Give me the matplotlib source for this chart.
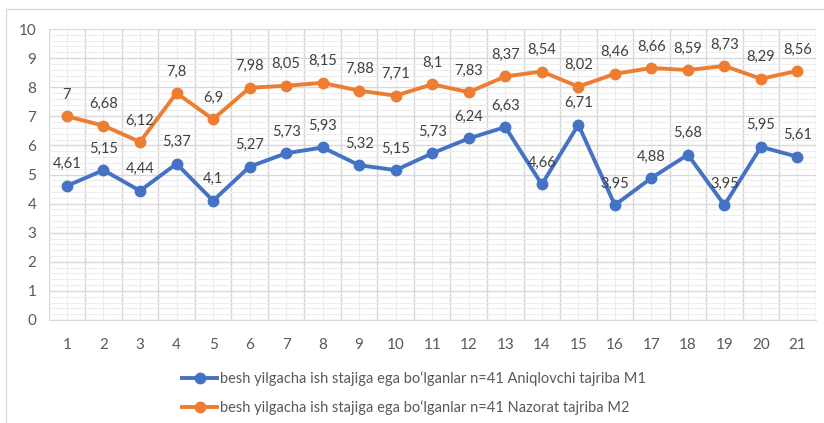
import numpy as np
import matplotlib.pyplot as plt
from matplotlib.patches import Rectangle
from matplotlib.ticker import MultipleLocator

plt.rcParams['font.family'] = ['Lato', 'DejaVu Sans']

days = list(range(1, 22))
m1 = [4.61, 5.15, 4.44, 5.37, 4.1, 5.27, 5.73, 5.93, 5.32, 5.15, 5.73,
      6.24, 6.63, 4.66, 6.71, 3.95, 4.88, 5.68, 3.95, 5.95, 5.61]
m2 = [7, 6.68, 6.12, 7.8, 6.9, 7.98, 8.05, 8.15, 7.88, 7.71, 8.1,
      7.83, 8.37, 8.54, 8.02, 8.46, 8.66, 8.59, 8.73, 8.29, 8.56]
name1 = "besh yilgacha ish stajiga ega bo\u2018lganlar n=41 Aniqlovchi tajriba M1"
name2 = "besh yilgacha ish stajiga ega bo\u2018lganlar n=41 Nazorat tajriba M2"

blue = '#4472C4'
orange = '#ED7D31'

fig = plt.figure(figsize=(8.24, 4.23), dpi=100)
ax = fig.add_axes([0.0591, 0.2435, 0.9309, 0.6879])

# chart border like excel
fig.patches.append(Rectangle((6/824, -0.1), 2, 1.1 - 9/423,
                             transform=fig.transFigure, fill=False,
                             edgecolor='#D9D9D9', lw=1))

ax.plot(days, m1, color=blue, lw=2.8, marker='o', ms=7.5, label=name1, zorder=3)
ax.plot(days, m2, color=orange, lw=2.8, marker='o', ms=7.5, label=name2, zorder=3)

def fmt(v):
    return ('%g' % v).replace('.', ',')

for x, y in zip(days, m1):
    ax.annotate(fmt(y), (x, y), xytext=(0, 15.5), textcoords='offset points',
                ha='center', va='center', fontsize=10.5, color='#404040')
for x, y in zip(days, m2):
    ax.annotate(fmt(y), (x, y), xytext=(0, 15.5), textcoords='offset points',
                ha='center', va='center', fontsize=10.5, color='#404040')

ax.set_xlim(0.5, 21.5)
ax.set_ylim(0, 10)
ax.set_xticks(days)
ax.set_yticks(range(0, 11))
ax.xaxis.set_minor_locator(MultipleLocator(1, offset=0.5))
ax.yaxis.set_minor_locator(MultipleLocator(0.2))
ax.grid(which='minor', color='#EDEDED', lw=0.8)
ax.grid(which='major', axis='y', color='#D9D9D9', lw=1)
# vertical major lines sit on category boundaries
ax.grid(which='minor', axis='x', color='#D6D6D6', lw=1)
for x in days:
    ax.axvline(x, color='#EDEDED', lw=0.8, zorder=0)
ax.set_axisbelow(True)
ax.tick_params(which='both', length=0, labelsize=11, colors='#595959')
ax.tick_params(axis='x', pad=13)
ax.tick_params(axis='y', pad=9)
for s in ['top', 'right', 'left']:
    ax.spines[s].set_visible(False)
ax.spines['bottom'].set_color('#D9D9D9')

fig.legend(loc='center', bbox_to_anchor=(414/824, 1 - 393/423), ncol=1,
           frameon=False, fontsize=10.5, labelcolor='#595959',
           handlelength=2.4, handletextpad=0.15, labelspacing=0.95)

fig.savefig('out.png', dpi=100)
